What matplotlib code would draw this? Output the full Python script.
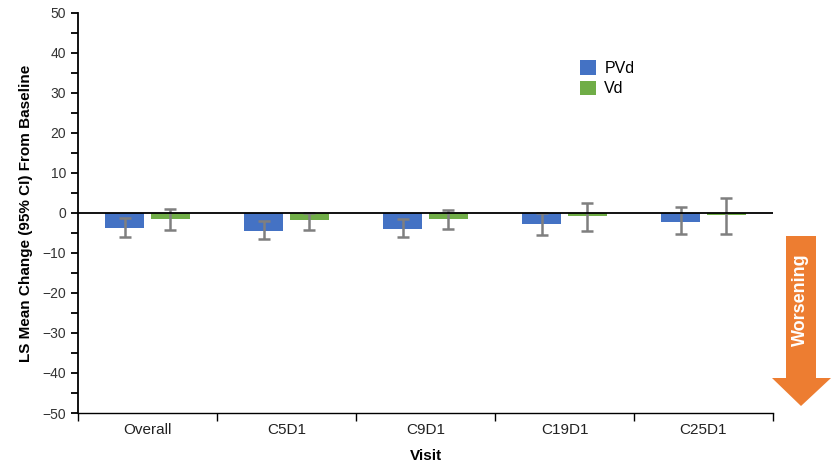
import matplotlib
matplotlib.use("Agg")
import matplotlib.pyplot as plt
import numpy as np
from matplotlib.patches import Polygon, Patch

plt.rcParams['font.family'] = ['Liberation Sans', 'DejaVu Sans']

visits = ["Overall", "C5D1", "C9D1", "C19D1", "C25D1"]
pvd_mean = [-3.8, -4.4, -3.9, -2.75, -2.2]
pvd_lo = [-5.9, -6.5, -6.1, -5.6, -5.3]
pvd_hi = [-1.3, -2.0, -1.4, 0.0, 1.6]
vd_mean = [-1.6, -1.8, -1.5, -0.8, -0.6]
vd_lo = [-4.2, -4.2, -4.0, -4.6, -5.3]
vd_hi = [1.0, 0.0, 0.7, 2.6, 3.8]

blue = "#4472C4"
green = "#70AD47"
orange = "#ED7D31"
err_gray = "#7F7F7F"

W, H = 833, 469
fig = plt.figure(figsize=(W / 100, H / 100), dpi=100)
ax = fig.add_axes([78 / W, 1 - 413 / H, (773 - 78) / W, (413 - 13) / H])

x = np.arange(len(visits))
bw = 0.275
off = 0.165

for xs, mean, lo, hi, col in [(x - off, pvd_mean, pvd_lo, pvd_hi, blue),
                              (x + off, vd_mean, vd_lo, vd_hi, green)]:
    mean = np.array(mean)
    ax.bar(xs, mean, width=bw, color=col, zorder=2)
    yerr = np.vstack([mean - np.array(lo), np.array(hi) - mean])
    ax.errorbar(xs, mean, yerr=yerr, fmt='none', ecolor=err_gray,
                elinewidth=1.8, capsize=4, capthick=1.8, zorder=3)

ax.axhline(0, color='black', lw=1.3, zorder=4)

ax.set_xlim(-0.5, len(visits) - 0.5)
ax.set_ylim(-50, 50)
ax.set_yticks(np.arange(-50, 51, 10))
ax.set_yticklabels([f"{v}".replace("-", "\u2212") for v in range(-50, 51, 10)])
ax.set_yticks(np.arange(-45, 50, 10), minor=True)
ax.tick_params(axis='y', which='both', direction='out', length=5, width=1.3,
               labelsize=10, colors='black', labelcolor='#333333')

# category labels at centres, ticks at category boundaries
ax.set_xticks(np.arange(-0.5, len(visits), 1.0))
ax.set_xticklabels([])
ax.set_xticks(x, minor=True)
ax.set_xticklabels(visits, minor=True)
ax.tick_params(axis='x', which='major', direction='out', length=6, width=1.0)
ax.tick_params(axis='x', which='minor', length=0, labelsize=11, pad=7,
               labelcolor='#222222')

for side in ['top', 'right']:
    ax.spines[side].set_visible(False)
ax.spines['left'].set_linewidth(1.3)
ax.spines['bottom'].set_linewidth(1.0)

ax.set_ylabel("LS Mean Change (95% CI) From Baseline", fontsize=11,
              fontweight='bold', labelpad=7)
ax.set_xlabel("Visit", fontsize=11, fontweight='bold', labelpad=9)

handles = [Patch(facecolor=blue, label="PVd"), Patch(facecolor=green, label="Vd")]
fig.legend(handles=handles, loc='upper left', bbox_to_anchor=(574 / W, 1 - 54 / H),
           frameon=False, fontsize=11.5, handlelength=1.0, handleheight=1.0,
           handletextpad=0.5, labelspacing=0.3, borderaxespad=0)

# "Worsening" arrow to the right of the plot
def fpt(px, py):
    return (px / W, 1 - py / H)

arrow_pts = [fpt(786, 236), fpt(816, 236), fpt(816, 378), fpt(831, 378),
             fpt(801, 406), fpt(772, 378), fpt(786, 378)]
fig.patches.append(Polygon(arrow_pts, closed=True, facecolor=orange,
                           edgecolor='none', transform=fig.transFigure))
fig.text(800 / W, 1 - 300 / H, "Worsening", rotation=90, color='white',
         fontsize=13, fontweight='bold', ha='center', va='center')

fig.savefig("out.png", dpi=100)
